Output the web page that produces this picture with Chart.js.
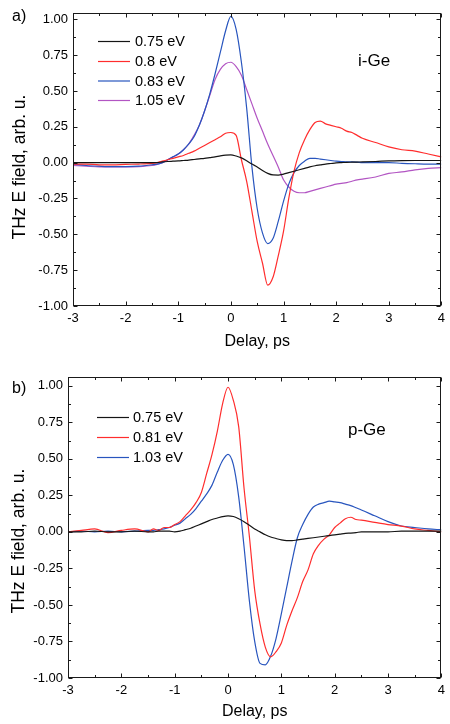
<!DOCTYPE html>
<html><head><meta charset="utf-8">
<script src="https://cdn.jsdelivr.net/npm/chart.js@4/dist/chart.umd.min.js"></script>
<style>
html,body{margin:0;padding:0;background:#fff;}
#wrapA{position:absolute;left:0;top:0;width:450px;height:362px;}
#wrapB{position:absolute;left:0;top:362px;width:450px;height:362px;}
</style></head><body>
<div id="wrapA"><canvas id="chartA"></canvas></div>
<div id="wrapB"><canvas id="chartB"></canvas></div>
<script>
// ---- data ----
const delays = [-3,-2.75,-2.5,-2.25,-2,-1.75,
  -1.5,-1.4,-1.3,-1.2,-1.1,-1.0,-0.9,-0.8,-0.7,-0.6,-0.5,-0.4,-0.3,-0.2,-0.1,0,
  0.1,0.2,0.3,0.4,0.5,0.6,0.7,0.8,0.9,1.0,1.1,1.2,1.3,1.4,1.5,1.6,1.7,1.8,1.9,2.0,
  2.1,2.2,2.3,2.4,2.5,
  2.75,3,3.25,3.5,3.75,4];
const xTicks = [-3,-2,-1,0,1,2,3,4];
const yTicks = [-1,-0.75,-0.5,-0.25,0,0.25,0.5,0.75,1];

// panel a) i-Ge
const labelsA = ['0.75 eV','0.8 eV','0.83 eV','1.05 eV'];
const iGe075 = [0,0,0,0,0,0,
  0,0,0.005,0.008,0.01,0.012,0.015,0.018,0.022,0.026,0.03,0.035,0.04,0.047,0.052,0.054,
  0.046,0.033,0.013,-0.01,-0.03,-0.055,-0.075,-0.086,-0.087,-0.08,-0.07,-0.06,-0.05,-0.04,-0.03,-0.022,-0.016,-0.01,-0.006,-0.002,
  0,0.002,0.003,0.004,0.005,
  0.008,0.012,0.014,0.015,0.015,0.015];
const iGe08 = [-0.01,-0.01,-0.015,-0.015,-0.012,-0.01,
  -0.005,0,0.01,0.02,0.03,0.04,0.05,0.065,0.08,0.1,0.12,0.14,0.16,0.18,0.205,0.21,
  0.19,0.02,-0.13,-0.34,-0.55,-0.70,-0.855,-0.80,-0.65,-0.48,-0.25,-0.06,0.07,0.16,0.23,0.28,0.29,0.27,0.26,0.25,
  0.24,0.22,0.21,0.19,0.17,
  0.14,0.11,0.09,0.08,0.06,0.04];
const iGe083 = [-0.01,-0.02,-0.025,-0.028,-0.028,-0.025,
  -0.015,-0.01,0,0.02,0.04,0.06,0.09,0.13,0.18,0.26,0.36,0.48,0.62,0.77,0.92,1.02,
  0.93,0.70,0.38,-0.03,-0.32,-0.49,-0.565,-0.53,-0.41,-0.27,-0.15,-0.07,-0.02,0.01,0.03,0.03,0.025,0.02,0.015,0.01,
  0.008,0.005,0.005,0.003,0,
  0,0,-0.005,-0.008,-0.01,-0.01];
const iGe105 = [-0.02,-0.025,-0.03,-0.03,-0.03,-0.028,
  -0.02,-0.012,0,0.02,0.04,0.06,0.09,0.13,0.19,0.26,0.36,0.47,0.58,0.65,0.69,0.70,
  0.67,0.61,0.51,0.41,0.31,0.22,0.13,0.05,-0.03,-0.12,-0.17,-0.20,-0.21,-0.21,-0.20,-0.19,-0.18,-0.17,-0.16,-0.15,
  -0.145,-0.14,-0.13,-0.12,-0.115,
  -0.10,-0.075,-0.065,-0.05,-0.04,-0.035];

// panel b) p-Ge
const labelsB = ['0.75 eV','0.81 eV','1.03 eV'];
const pGe075 = [0,0,0.005,0,0,0.005,
  0,0,0.005,0.005,0.005,0,0.005,0.015,0.025,0.04,0.055,0.07,0.085,0.095,0.105,0.11,
  0.105,0.09,0.07,0.045,0.02,0,-0.02,-0.035,-0.045,-0.055,-0.06,-0.06,-0.055,-0.05,-0.045,-0.04,-0.035,-0.03,-0.025,-0.02,
  -0.015,-0.01,-0.008,-0.005,0,
  0,0,0.005,0.005,0.005,0.005];
const pGe081 = [0,0.01,0.02,-0.005,0.01,0.02,
  0,0.02,0.01,0.03,0.03,0.05,0.07,0.11,0.15,0.20,0.27,0.40,0.53,0.69,0.88,0.99,
  0.90,0.72,0.30,-0.03,-0.40,-0.63,-0.79,-0.855,-0.82,-0.76,-0.64,-0.54,-0.45,-0.34,-0.26,-0.15,-0.09,-0.05,-0.02,0.03,
  0.06,0.09,0.10,0.085,0.08,
  0.065,0.05,0.04,0.02,0.01,0];
const pGe103 = [0,0.005,0,0.005,0,0.005,
  0.01,0.01,0.015,0.02,0.03,0.045,0.06,0.09,0.12,0.16,0.21,0.26,0.32,0.41,0.49,0.53,
  0.46,0.24,-0.10,-0.47,-0.75,-0.90,-0.91,-0.85,-0.73,-0.56,-0.38,-0.20,-0.04,0.05,0.12,0.17,0.19,0.20,0.21,0.205,
  0.20,0.19,0.18,0.165,0.15,
  0.11,0.07,0.04,0.03,0.02,0.015];

// ---- drawing ----
const FONT = "'Liberation Sans', Arial, Helvetica, sans-serif";
Chart.defaults.font.family = FONT;
Chart.defaults.color = '#000';

function pts(arr){ return delays.map((d,i)=>({x:d, y:arr[i]})); }

function makeDecor(cfg){
  return {
    id: 'decor',
    afterDatasetsDraw(chart){
      const {ctx, chartArea:a, scales} = chart;
      const xs = scales.x, ys = scales.y;
      ctx.save();
      ctx.strokeStyle = '#1a1a1a'; ctx.lineWidth = 1;
      const L = Math.round(a.left)+0.5, R = Math.round(a.right)-0.5;
      const T = Math.round(a.top)+0.5, B = Math.round(a.bottom)-0.5;
      ctx.strokeRect(L, T, R-L, B-T);
      ctx.beginPath();
      const xt = (v,len)=>{ const p=Math.round(xs.getPixelForValue(v))+0.5; ctx.moveTo(p,B); ctx.lineTo(p,B-len); ctx.moveTo(p,T); ctx.lineTo(p,T+len); };
      const yt = (v,len)=>{ const p=Math.round(ys.getPixelForValue(v))+0.5; ctx.moveTo(L,p); ctx.lineTo(L+len,p); ctx.moveTo(R,p); ctx.lineTo(R-len,p); };
      xTicks.forEach(v=>xt(v,4));
      for(let i=0;i<xTicks.length-1;i++) xt((xTicks[i]+xTicks[i+1])/2,2.5);
      yTicks.forEach(v=>yt(v,4));
      for(let i=0;i<yTicks.length-1;i++) yt((yTicks[i]+yTicks[i+1])/2,2.5);
      ctx.stroke();

      // legend
      ctx.font = '14.5px ' + FONT;
      ctx.textBaseline = 'middle'; ctx.textAlign = 'left';
      chart.data.datasets.forEach((ds,i)=>{
        const y = cfg.legendY[i];
        ctx.beginPath(); ctx.strokeStyle = ds.borderColor; ctx.lineWidth = 1.2;
        ctx.moveTo(cfg.lx1, y+0.5); ctx.lineTo(cfg.lx2, y+0.5); ctx.stroke();
        ctx.fillStyle = '#000'; ctx.fillText(ds.label, cfg.tx, y+1);
      });
      // sample label
      ctx.font = '17px ' + FONT; ctx.textBaseline = 'alphabetic';
      ctx.fillText(cfg.tag, cfg.tagX, cfg.tagY);
      // panel letter
      ctx.font = '16px ' + FONT;
      ctx.fillText(cfg.panel, 12, cfg.panelY);
      // y title
      ctx.save();
      ctx.translate(cfg.ytX, cfg.ytY); ctx.rotate(-Math.PI/2);
      ctx.font = '17.5px ' + FONT; ctx.textAlign = 'center'; ctx.textBaseline = 'middle';
      ctx.fillText('THz E field, arb. u.', 0, 0);
      ctx.restore();
      ctx.restore();
    }
  };
}

function makeChart(id, datasets, cfg){
  return new Chart(document.getElementById(id), {
    type: 'line',
    data: { datasets },
    options: {
      responsive: true, maintainAspectRatio: false, animation: false, devicePixelRatio: 1,
      layout: { padding: { top: cfg.padTop, right: 6, left: 0, bottom: 0 } },
      plugins: { legend: { display: false }, tooltip: { enabled: false } },
      elements: { point: { radius: 0 }, line: { borderWidth: 1.2, cubicInterpolationMode: 'monotone' } },
      scales: {
        x: {
          type: 'linear', min: -3, max: 4,
          grid: { display: false, drawTicks: false }, border: { display: false },
          ticks: { padding: 5, color: '#000', font: { size: 13, family: FONT }, autoSkip: false, maxRotation: 0, minRotation: 0,
                   callback: v => String(v) },
          afterBuildTicks: s => { s.ticks = xTicks.map(v => ({ value: v })); },
          afterFit: s => { s.height = cfg.xH; },
          title: { display: true, text: 'Delay, ps', color: '#000', font: { size: 16, family: FONT }, padding: { top: 0, bottom: cfg.xtPad } }
        },
        y: {
          type: 'linear', min: -1, max: cfg.yMax,
          grid: { display: false, drawTicks: false }, border: { display: false },
          ticks: { padding: 5, color: '#000', font: { size: 13, family: FONT }, autoSkip: false,
                   callback: v => Number(v).toFixed(2) },
          afterBuildTicks: s => { s.ticks = yTicks.map(v => ({ value: v })); },
          afterFit: s => { s.width = cfg.yW; }
        }
      }
    },
    plugins: [makeDecor(cfg)]
  });
}

const BLACK = '#151515', RED = 'rgb(255,45,45)', BLUE = 'rgb(40,85,190)', PURPLE = 'rgb(178,85,195)';

makeChart('chartA', [
  { label: labelsA[0], data: pts(iGe075), borderColor: BLACK },
  { label: labelsA[1], data: pts(iGe08), borderColor: RED },
  { label: labelsA[2], data: pts(iGe083), borderColor: BLUE },
  { label: labelsA[3], data: pts(iGe105), borderColor: PURPLE }
], { padTop: 7, xH: 56, yW: 73, yMax: 1.045, xtPad: 11,
     legendY: [41, 61, 80.5, 100], lx1: 98, lx2: 130, tx: 135,
     tag: 'i-Ge', tagX: 358, tagY: 66, panel: 'a)', panelY: 21, ytX: 20, ytY: 167 });

makeChart('chartB', [
  { label: labelsB[0], data: pts(pGe075), borderColor: BLACK },
  { label: labelsB[1], data: pts(pGe081), borderColor: RED },
  { label: labelsB[2], data: pts(pGe103), borderColor: BLUE }
], { padTop: 15, xH: 46, yW: 68, yMax: 1.06, xtPad: 2.5,
     legendY: [55, 75, 95], lx1: 97, lx2: 129, tx: 133,
     tag: 'p-Ge', tagX: 348, tagY: 73, panel: 'b)', panelY: 31, ytX: 19, ytY: 179 });
</script>
</body></html>
